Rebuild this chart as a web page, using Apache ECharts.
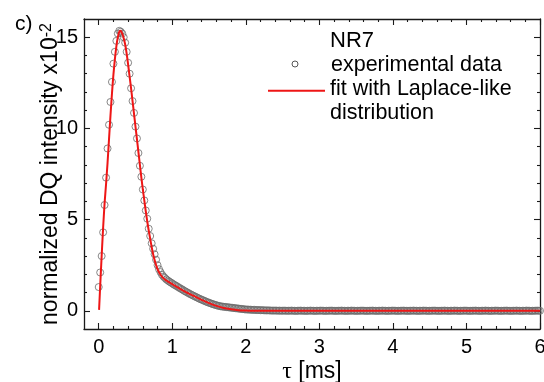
<!DOCTYPE html>
<html><head><meta charset="utf-8">
<script src="https://cdn.jsdelivr.net/npm/echarts@6/dist/echarts.min.js"></script>
<style>html,body{margin:0;padding:0;background:#fff}#c{width:544px;height:382px}</style>
</head><body><div id="c"></div>
<script>
// ---- tick values ----
const xTickLabels = [0, 1, 2, 3, 4, 5, 6];
const xMinorTicks = [0.2,0.4,0.6,0.8,1.2,1.4,1.6,1.8,2.2,2.4,2.6,2.8,3.2,3.4,3.6,3.8,4.2,4.4,4.6,4.8,5.2,5.4,5.6,5.8];
const yTickLabels = [0, 5, 10, 15];
const yMinorTicks = [1,2,3,4,6,7,8,9,11,12,13,14];

// ---- experimental data: [tau (ms), intensity x10^-2] ----
const expData = [
[0.00,1.30],[0.02,2.10],[0.04,3.00],[0.06,4.30],[0.08,5.80],[0.10,7.30],[0.12,8.90],[0.14,10.20],[0.16,11.45],[0.18,12.55],
[0.20,13.55],[0.22,14.20],[0.24,14.80],[0.26,15.20],[0.28,15.35],[0.30,15.30],[0.32,15.20],[0.34,15.00],[0.36,14.70],[0.38,14.20],
[0.40,13.60],[0.42,13.00],[0.44,12.20],[0.46,11.50],[0.48,10.85],[0.50,10.10],[0.52,9.45],[0.54,8.65],[0.56,7.95],[0.58,7.35],
[0.60,6.65],[0.62,6.05],[0.64,5.50],[0.66,5.05],[0.68,4.50],[0.70,4.10],[0.72,3.70],[0.74,3.40],[0.76,3.10],[0.78,2.80],
[0.80,2.50],[0.82,2.28],[0.84,2.12],[0.86,1.98],[0.88,1.88],[0.90,1.80],[0.92,1.72],[0.94,1.66],[0.96,1.60],[0.98,1.55],
[1.00,1.50],[1.02,1.44],[1.04,1.40],[1.06,1.35],[1.08,1.30],[1.10,1.25],[1.12,1.20],[1.14,1.16],[1.16,1.10],[1.18,1.06],
[1.20,1.01],[1.22,0.97],[1.24,0.92],[1.26,0.88],[1.28,0.84],[1.30,0.80],[1.32,0.76],[1.34,0.72],[1.36,0.68],[1.38,0.64],
[1.40,0.61],[1.42,0.57],[1.44,0.54],[1.46,0.50],[1.48,0.47],[1.50,0.44],[1.52,0.41],[1.54,0.38],[1.56,0.35],[1.58,0.33],
[1.60,0.30],[1.62,0.28],[1.64,0.26],[1.66,0.24],[1.68,0.23],[1.70,0.22],[1.72,0.21],[1.74,0.20],[1.76,0.19],[1.78,0.18],
[1.80,0.17],[1.82,0.16],[1.84,0.15],[1.86,0.14],[1.88,0.13],[1.90,0.12],[1.92,0.11],[1.94,0.10],[1.96,0.09],[1.98,0.08],
[2.00,0.07],[2.02,0.07],[2.04,0.06],[2.06,0.06],[2.08,0.05],[2.10,0.05],[2.12,0.05],[2.14,0.04],[2.16,0.04],[2.18,0.04],
[2.20,0.03],[2.22,0.03],[2.24,0.03],[2.26,0.02],[2.28,0.02],[2.30,0.02],[2.32,0.02],[2.34,0.01],[2.36,0.01],[2.38,0.01],
[2.40,0.01],[2.42,0.01],[2.44,0.00],[2.46,0.01],[2.48,0.00],[2.50,0.00],[2.52,0.01],[2.54,0.00],[2.56,0.00],[2.58,0.00],
[2.60,0.00],[2.62,0.01],[2.64,0.00],[2.66,0.00],[2.68,-0.01],[2.70,0.00],[2.72,0.00],[2.74,0.01],[2.76,0.00],[2.78,0.00],
[2.80,0.00],[2.82,-0.01],[2.84,0.00],[2.86,0.00],[2.88,0.01],[2.90,0.00],[2.92,0.00],[2.94,-0.01],[2.96,0.00],[2.98,0.00],
[3.00,0.00],[3.02,0.01],[3.04,0.00],[3.06,0.00],[3.08,-0.01],[3.10,0.00],[3.12,0.00],[3.14,0.00],[3.16,0.01],[3.18,0.00],
[3.20,0.00],[3.22,-0.01],[3.24,0.00],[3.26,0.00],[3.28,0.00],[3.30,0.01],[3.32,0.00],[3.34,0.00],[3.36,-0.01],[3.38,0.00],
[3.40,0.00],[3.42,0.00],[3.44,0.01],[3.46,0.00],[3.48,0.00],[3.50,-0.01],[3.52,0.00],[3.54,0.00],[3.56,0.00],[3.58,0.01],
[3.60,0.00],[3.62,0.00],[3.64,-0.01],[3.66,0.00],[3.68,0.00],[3.70,0.00],[3.72,0.01],[3.74,0.00],[3.76,0.00],[3.78,-0.01],
[3.80,0.00],[3.82,0.00],[3.84,0.00],[3.86,0.01],[3.88,0.00],[3.90,0.00],[3.92,-0.01],[3.94,0.00],[3.96,0.00],[3.98,0.00],
[4.00,0.01],[4.02,0.00],[4.04,0.00],[4.06,-0.01],[4.08,0.00],[4.10,0.00],[4.12,0.00],[4.14,0.01],[4.16,0.00],[4.18,0.00],
[4.20,-0.01],[4.22,0.00],[4.24,0.00],[4.26,0.00],[4.28,0.01],[4.30,0.00],[4.32,0.00],[4.34,-0.01],[4.36,0.00],[4.38,0.00],
[4.40,0.00],[4.42,0.01],[4.44,0.00],[4.46,0.00],[4.48,-0.01],[4.50,0.00],[4.52,0.00],[4.54,0.00],[4.56,0.01],[4.58,0.00],
[4.60,0.00],[4.62,-0.01],[4.64,0.00],[4.66,0.00],[4.68,0.00],[4.70,0.01],[4.72,0.00],[4.74,0.00],[4.76,-0.01],[4.78,0.00],
[4.80,0.00],[4.82,0.00],[4.84,0.01],[4.86,0.00],[4.88,0.00],[4.90,-0.01],[4.92,0.00],[4.94,0.00],[4.96,0.00],[4.98,0.01],
[5.00,0.00],[5.02,0.00],[5.04,-0.01],[5.06,0.00],[5.08,0.00],[5.10,0.00],[5.12,0.01],[5.14,0.00],[5.16,0.00],[5.18,-0.01],
[5.20,0.00],[5.22,0.00],[5.24,0.00],[5.26,0.01],[5.28,0.00],[5.30,0.00],[5.32,-0.01],[5.34,0.00],[5.36,0.00],[5.38,0.00],
[5.40,0.01],[5.42,0.00],[5.44,0.00],[5.46,-0.01],[5.48,0.00],[5.50,0.00],[5.52,0.00],[5.54,0.01],[5.56,0.00],[5.58,0.00],
[5.60,-0.01],[5.62,0.00],[5.64,0.00],[5.66,0.00],[5.68,0.01],[5.70,0.00],[5.72,0.00],[5.74,-0.01],[5.76,0.00],[5.78,0.00],
[5.80,0.00],[5.82,0.01],[5.84,0.00],[5.86,0.00],[5.88,-0.01],[5.90,0.00],[5.92,0.00],[5.94,0.00],[5.96,0.01],[5.98,0.00],
[6.00,0.00]
];

// ---- fit with Laplace-like distribution ----
const fitData = [
[0.005,0.05],[0.02,1.35],[0.04,3.00],[0.06,4.55],[0.08,5.90],[0.10,6.95],[0.12,8.10],[0.14,9.40],[0.16,10.70],[0.18,11.90],
[0.20,12.95],[0.22,13.80],[0.24,14.50],[0.26,15.00],[0.28,15.30],[0.30,15.35],[0.32,15.20],[0.34,14.95],[0.36,14.60],[0.38,14.10],
[0.40,13.50],[0.42,12.85],[0.44,12.20],[0.46,11.50],[0.48,10.80],[0.50,10.10],[0.52,9.40],[0.54,8.70],[0.56,8.00],[0.58,7.30],
[0.60,6.65],[0.62,6.05],[0.64,5.45],[0.66,4.90],[0.68,4.40],[0.70,3.95],[0.72,3.50],[0.74,3.10],[0.76,2.78],[0.78,2.50],
[0.80,2.28],[0.85,1.92],[0.90,1.72],[0.95,1.58],[1.00,1.46],[1.05,1.34],[1.10,1.22],[1.20,1.00],[1.30,0.80],[1.40,0.60],
[1.50,0.42],[1.60,0.27],[1.70,0.15],[1.80,0.08],[1.90,0.03],[2.00,0.01],[2.10,0.00],[2.40,0.00],[3.00,0.00],[4.00,0.00],
[5.00,0.00],[6.00,0.00]
];

const FONT = '"Liberation Sans", Arial, sans-serif';
const AX = '#1a1a1a';

function xAx(pos, ticks, len, line, labels) {
  return {
    type: 'value', position: pos, min: -0.2, max: 6,
    axisLine: { show: line, onZero: false, lineStyle: { color: AX, width: 1.3 } },
    axisTick: { show: true, inside: true, length: len, customValues: ticks, lineStyle: { color: AX, width: 1.1 } },
    axisLabel: labels ? { show: true, customValues: xTickLabels, margin: 8, fontSize: 20, color: '#000', fontFamily: FONT } : { show: false },
    splitLine: { show: false }
  };
}
function yAx(pos, ticks, len, line, labels) {
  return {
    type: 'value', position: pos, min: -1, max: 16,
    axisLine: { show: line, onZero: false, lineStyle: { color: AX, width: 1.3 } },
    axisTick: { show: true, inside: true, length: len, customValues: ticks, lineStyle: { color: AX, width: 1.1 } },
    axisLabel: labels ? { show: true, customValues: yTickLabels, margin: 6, fontSize: 20, color: '#000', fontFamily: FONT } : { show: false },
    splitLine: { show: false }
  };
}

const xMain = xAx('bottom', xTickLabels, 6, true, true);
xMain.name = '{t|τ} [ms]';
xMain.nameLocation = 'middle';
xMain.nameGap = 31;
xMain.nameMoveOverlap = false;
xMain.nameTextStyle = { fontSize: 23, color: '#000', fontFamily: FONT, verticalAlign: 'top',
  rich: { t: { fontSize: 24, fontFamily: '"Liberation Serif", serif', color: '#000' } } };

const yMain = yAx('left', yTickLabels, 6, true, true);
yMain.name = '{a|normalized DQ intensity x10}{b|-2}';
yMain.nameLocation = 'middle';
yMain.nameRotate = 90;
yMain.nameGap = 22;
yMain.nameMoveOverlap = false;
yMain.nameTextStyle = { fontSize: 23, color: '#000', fontFamily: FONT, verticalAlign: 'bottom',
  rich: { a: { fontSize: 23, color: '#000', fontFamily: FONT },
          b: { fontSize: 16, color: '#000', fontFamily: FONT, verticalAlign: 'top' } } };

const chart = echarts.init(document.getElementById('c'), null, { renderer: 'canvas' });
chart.setOption({
  animation: false,
  backgroundColor: '#fff',
  grid: { left: 84, right: 4, top: 19, bottom: 53, containLabel: false, outerBoundsMode: 'none' },
  xAxis: [
    xMain,
    xAx('bottom', xMinorTicks, 3, false, false),
    xAx('top', xTickLabels, 6, true, false),
    xAx('top', xMinorTicks, 3, false, false)
  ],
  yAxis: [
    yMain,
    yAx('left', yMinorTicks, 3, false, false),
    yAx('right', yTickLabels, 6, true, false),
    yAx('right', yMinorTicks, 3, false, false)
  ],
  series: [
    { name: 'experimental data', type: 'scatter', data: expData, xAxisIndex: 0, yAxisIndex: 0,
      symbol: 'circle', symbolSize: 7, silent: true, z: 2,
      itemStyle: { color: 'rgba(0,0,0,0)', borderColor: '#6a6a6a', borderWidth: 1 } },
    { name: 'fit with Laplace-like distribution', type: 'line', data: fitData, xAxisIndex: 0, yAxisIndex: 0,
      showSymbol: false, symbol: 'none', silent: true, z: 3, smooth: 0.2,
      lineStyle: { color: '#ee1616', width: 2 } }
  ],
  graphic: [
    { type: 'text', left: 15, top: 14, style: { text: 'c)', font: '21px ' + FONT, fill: '#000' } },
    { type: 'text', x: 330, y: 40.5, style: { text: 'NR7', font: '22px ' + FONT, fill: '#000', verticalAlign: 'middle' } },
    { type: 'circle', shape: { cx: 295, cy: 64, r: 3 }, style: { fill: 'none', stroke: '#555', lineWidth: 1 } },
    { type: 'text', x: 331, y: 65.5, style: { text: 'experimental data', font: '21.5px ' + FONT, fill: '#000', verticalAlign: 'middle' } },
    { type: 'line', shape: { x1: 268, y1: 90.7, x2: 325, y2: 90.7 }, style: { stroke: '#ee1616', lineWidth: 2 } },
    { type: 'text', x: 330, y: 89, style: { text: 'fit with Laplace-like', font: '21.5px ' + FONT, fill: '#000', verticalAlign: 'middle' } },
    { type: 'text', x: 330, y: 113, style: { text: 'distribution', font: '21.5px ' + FONT, fill: '#000', verticalAlign: 'middle' } }
  ]
});
</script>
</body></html>
